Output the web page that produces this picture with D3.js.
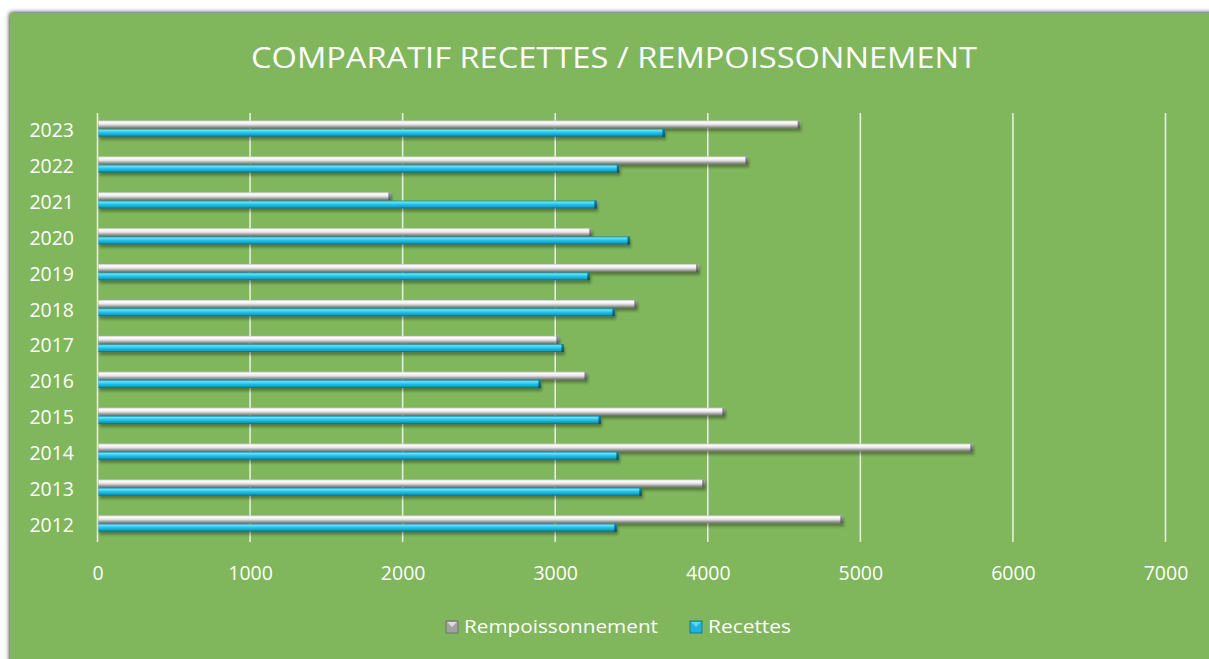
<!DOCTYPE html>
<html><head><meta charset="utf-8">
<script src="https://cdn.jsdelivr.net/npm/d3@7/dist/d3.min.js"></script>
<style>html,body{margin:0;padding:0;background:#fff;overflow:hidden}</style>
</head><body>
<svg id="c" width="1209" height="659"></svg>
<script>
const years = ["2012","2013","2014","2015","2016","2017","2018","2019","2020","2021","2022","2023"];
const rempoissonnement = [4885,3980,5737,4112,3208,3024,3535,3940,3240,1923,4263,4605];
const recettes = [3404,3568,3417,3300,2906,3057,3391,3227,3490,3273,3420,3719];
const seriesNames = ["Rempoissonnement","Recettes"];
const xTicks = [0,1000,2000,3000,4000,5000,6000,7000];
const title = "COMPARATIF RECETTES / REMPOISSONNEMENT";

const svg = d3.select("#c");
const defs = svg.append("defs");
const font = "'Open Sans', 'Noto Sans', sans-serif";

const sh = defs.append("filter").attr("id","psh").attr("x","-5%").attr("y","-5%").attr("width","110%").attr("height","110%");
sh.append("feGaussianBlur").attr("in","SourceAlpha").attr("stdDeviation",2.5);
sh.append("feOffset").attr("dx",0).attr("dy",0).attr("result","b");
const m = sh.append("feMerge"); m.append("feMergeNode").attr("in","b"); m.append("feMergeNode").attr("in","SourceGraphic");

const bsh = defs.append("filter").attr("id","bsh").attr("x","-2%").attr("y","-50%").attr("width","104%").attr("height","220%");
bsh.append("feGaussianBlur").attr("in","SourceAlpha").attr("stdDeviation",1.5);
bsh.append("feOffset").attr("dx",1).attr("dy",2.5).attr("result","o");
bsh.append("feComponentTransfer").attr("in","o").attr("result","o2").append("feFuncA").attr("type","linear").attr("slope",0.35);
const m2 = bsh.append("feMerge"); m2.append("feMergeNode").attr("in","o2"); m2.append("feMergeNode").attr("in","SourceGraphic");

function grad(id, stops){
  const g = defs.append("linearGradient").attr("id",id).attr("x1",0).attr("y1",0).attr("x2",0).attr("y2",1);
  stops.forEach(s=>g.append("stop").attr("offset",s[0]).attr("stop-color",s[1]));
}
grad("gGray",[[0,"#c8c8c8"],[0.2,"#ffffff"],[0.5,"#e6e6e6"],[0.75,"#a9a9a9"],[1,"#6f6f6f"]]);
grad("gBlue",[[0,"#1590b0"],[0.2,"#6ee0f6"],[0.5,"#22c3e8"],[0.8,"#12a2c6"],[1,"#0a6580"]]);
grad("gGrayCap",[[0,"#9a9a9a"],[1,"#555"]]);
grad("gBlueCap",[[0,"#0d86a6"],[1,"#064c60"]]);

svg.append("rect").attr("x",10).attr("y",13).attr("width",1230).attr("height",680)
  .attr("fill","#80b65b").attr("filter","url(#psh)");

const x = d3.scaleLinear().domain([0,7000]).range([97.5,1165.5]);
const y0 = d3.scaleBand().domain(years.slice().reverse()).range([113,542]).paddingInner(0.55).paddingOuter(0.25);
const y1 = d3.scaleBand().domain(seriesNames).range([-1.5,y0.bandwidth()-1.5]).paddingInner(0.05);

svg.append("g").selectAll("line").data(xTicks).join("line")
  .attr("x1",d=>x(d)).attr("x2",d=>x(d)).attr("y1",113).attr("y2",542)
  .attr("stroke","#e6eee0").attr("stroke-width",1.6);

const xAxis = d3.axisBottom(x).tickValues(xTicks).tickSize(0).tickPadding(0).tickFormat(d3.format("d"));
const gx = svg.append("g").attr("transform","translate(0,573)").call(xAxis);
gx.select(".domain").remove();
gx.selectAll("text").attr("fill","#fff").attr("font-family",font).attr("font-size",19.5).attr("dy","0.36em");

const yAxis = d3.axisLeft(y0).tickSize(0).tickPadding(0);
const gy = svg.append("g").attr("transform","translate(74,0)").call(yAxis);
gy.select(".domain").remove();
gy.selectAll("text").attr("fill","#fff").attr("font-family",font).attr("font-size",19.5).attr("dy","0.36em");

const data = years.map((yr,i)=>({year:yr, vals:[{s:"Rempoissonnement",v:rempoissonnement[i]},{s:"Recettes",v:recettes[i]}]}));

const groups = svg.append("g").selectAll("g").data(data).join("g")
  .attr("transform",d=>`translate(0,${y0(d.year)})`);
const bars = groups.selectAll("g.bar").data(d=>d.vals).join("g").attr("class","bar").attr("filter","url(#bsh)");
bars.append("rect")
  .attr("x",x(0)+1).attr("y",d=>y1(d.s)).attr("height",y1.bandwidth())
  .attr("width",d=>x(d.v)-x(0)-1)
  .attr("fill",d=>d.s==="Recettes"?"url(#gBlue)":"url(#gGray)");
bars.append("rect")
  .attr("x",d=>x(d.v)-2.5).attr("y",d=>y1(d.s)).attr("height",y1.bandwidth()).attr("width",2.5)
  .attr("fill",d=>d.s==="Recettes"?"url(#gBlueCap)":"url(#gGrayCap)");

svg.append("text").attr("x",614).attr("y",60).attr("text-anchor","middle").attr("dominant-baseline","middle")
  .attr("fill","#fff").attr("font-family",font).attr("font-size",29)
  .attr("textLength",726).attr("lengthAdjust","spacingAndGlyphs").text(title);

const leg = [{s:"Rempoissonnement",x:446,w:194,fill:"url(#gGray)"},{s:"Recettes",x:690,w:83,fill:"url(#gBlue)"}];
const lg = svg.append("g").selectAll("g").data(leg).join("g").attr("transform",d=>`translate(${d.x},621)`);
lg.append("rect").attr("width",12).attr("height",12).attr("fill",d=>d.s==="Recettes"?"#1fb3dc":"#a2a2a2").attr("stroke",d=>d.s==="Recettes"?"#0c6f8c":"#666").attr("stroke-width",0.8);
lg.append("path").attr("d","M1,1 L6,6 L11,1 Z").attr("fill",d=>d.s==="Recettes"?"#5fd6f0":"#dcdcdc");
lg.append("text").attr("x",18).attr("y",7).attr("dominant-baseline","middle").attr("fill","#fff")
  .attr("font-family",font).attr("font-size",19).attr("textLength",d=>d.w).attr("lengthAdjust","spacingAndGlyphs").text(d=>d.s);
</script>
</body></html>
